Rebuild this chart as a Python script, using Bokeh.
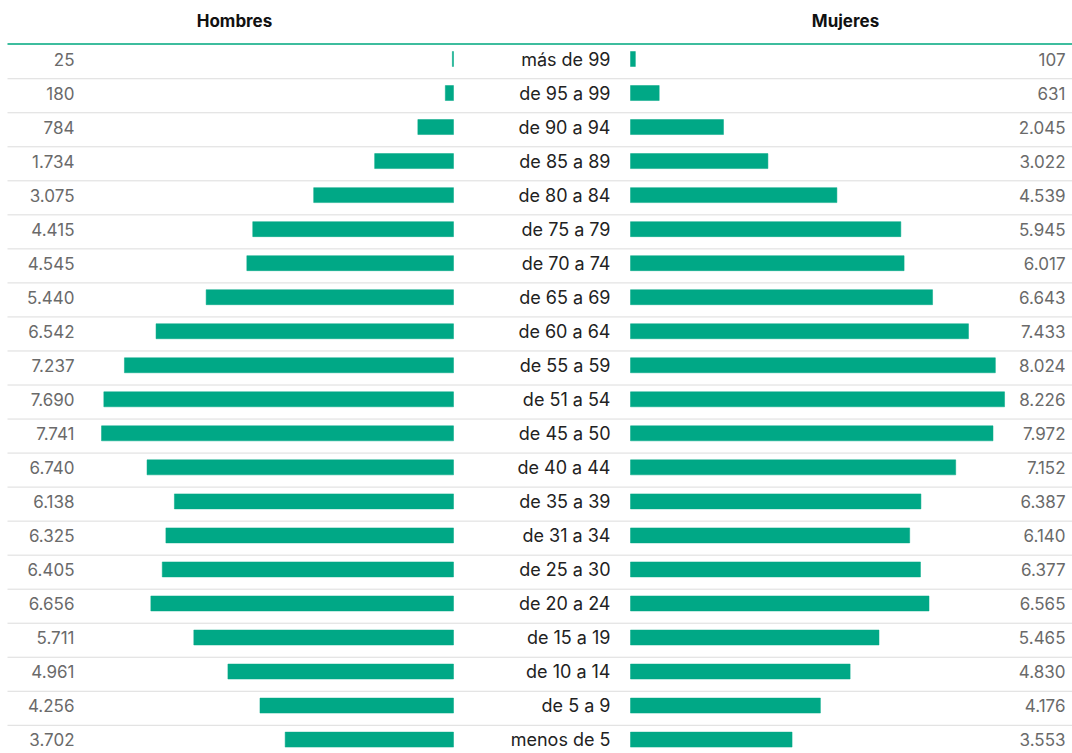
from bokeh.plotting import figure
from bokeh.models import Range1d, ColumnDataSource
from bokeh.core.properties import value
from bokeh.embed import file_html
from bokeh.resources import INLINE

# ---- data ----
categories = ["más de 99", "de 95 a 99", "de 90 a 94", "de 85 a 89", "de 80 a 84",
              "de 75 a 79", "de 70 a 74", "de 65 a 69", "de 60 a 64", "de 55 a 59",
              "de 51 a 54", "de 45 a 50", "de 40 a 44", "de 35 a 39", "de 31 a 34",
              "de 25 a 30", "de 20 a 24", "de 15 a 19", "de 10 a 14", "de 5 a 9",
              "menos de 5"]
hombres = [25, 180, 784, 1734, 3075, 4415, 4545, 5440, 6542, 7237, 7690, 7741,
           6740, 6138, 6325, 6405, 6656, 5711, 4961, 4256, 3702]
mujeres = [107, 631, 2045, 3022, 4539, 5945, 6017, 6643, 7433, 8024, 8226, 7972,
           7152, 6387, 6140, 6377, 6565, 5465, 4830, 4176, 3553]
headers = ["Hombres", "Mujeres"]

# ---- layout (pixels -> data units) ----
W, H = 1072, 753
PX_PER_UNIT = 0.04547          # horizontal scale of bars
ZERO_PX = 453                  # right edge of men bars, from frame left
GAP_PX = 177                   # gap between the two bar columns
ROW_PX = 34.03
FIRST_ROW_PX = 58.5            # centre of first row from frame top
RULE_LEFT_PX = 7

x_start = -ZERO_PX / PX_PER_UNIT
x_end = (W - ZERO_PX) / PX_PER_UNIT
gap = GAP_PX / PX_PER_UNIT
rule_x0 = x_start + RULE_LEFT_PX / PX_PER_UNIT
y_top = -FIRST_ROW_PX / ROW_PX
y_bottom = (H - FIRST_ROW_PX) / ROW_PX

def fmt(v):
    return f"{v:,}".replace(",", ".")

idx = list(range(len(categories)))
src = ColumnDataSource(dict(
    y=idx,
    cat=categories,
    h_left=[-v for v in hombres],
    m_right=[gap + v for v in mujeres],
    h_lbl=[fmt(v) for v in hombres],
    m_lbl=[fmt(v) for v in mujeres],
))

p = figure(width=W, height=H, output_backend="svg", toolbar_location=None,
           x_range=Range1d(x_start, x_end), y_range=Range1d(y_bottom, y_top),
           min_border=0, outline_line_color=None, background_fill_color="white",
           border_fill_color="white")
p.xaxis.visible = False
p.yaxis.visible = False
p.grid.visible = False

# separators
sep_y = [i + 0.58 for i in idx[:-1]]
p.segment(x0=rule_x0, x1=x_end, y0=sep_y, y1=sep_y,
          line_color="#dcdcdc", line_width=1)
# header rule
p.segment(x0=rule_x0, x1=x_end, y0=-0.44, y1=-0.44,
          line_color="#3dbd9e", line_width=2)

BAR = "#00a886"
p.hbar(y="y", left="h_left", right=0, height=0.44, source=src,
       fill_color=BAR, line_color=BAR, line_width=0.5)
p.hbar(y="y", left=gap, right="m_right", height=0.44, source=src,
       fill_color=BAR, line_color=BAR, line_width=0.5)

FONT = value("Inter")
p.text(x=x_start, y="y", text="h_lbl", source=src, x_offset=74,
       text_align="right", text_baseline="middle", text_font=FONT,
       text_font_size="17px", text_color="#6a6a6a")
p.text(x=x_end, y="y", text="m_lbl", source=src, x_offset=-7,
       text_align="right", text_baseline="middle", text_font=FONT,
       text_font_size="17px", text_color="#6a6a6a")
p.text(x=gap, y="y", text="cat", source=src, x_offset=-20,
       text_align="right", text_baseline="middle", text_font=FONT,
       text_font_size="18px", text_color="#222222")

hdr = ColumnDataSource(dict(
    x=[x_start / 2, (gap + x_end) / 2],
    y=[y_top + 20 / ROW_PX, y_top + 20 / ROW_PX],
    t=headers,
    off=[7.5, -6],
))
p.text(x="x", y="y", text="t", source=hdr, x_offset="off",
       text_align="center", text_baseline="middle", text_font=FONT,
       text_font_style="bold", text_font_size="17px", text_color="#111111")

open("out.html", "w").write(file_html(p, INLINE))
